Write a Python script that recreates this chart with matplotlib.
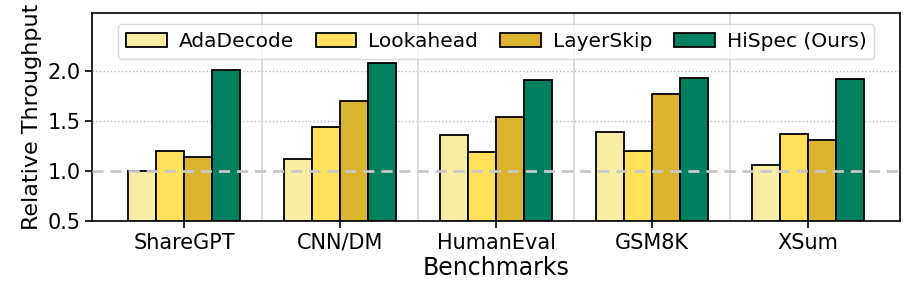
import matplotlib
matplotlib.use("Agg")
import matplotlib.pyplot as plt
import numpy as np

benchmarks = ["ShareGPT", "CNN/DM", "HumanEval", "GSM8K", "XSum"]
methods = ["AdaDecode", "Lookahead", "LayerSkip", "HiSpec (Ours)"]
adadecode = [1.00, 1.12, 1.36, 1.39, 1.06]
lookahead = [1.20, 1.44, 1.19, 1.20, 1.37]
layerskip = [1.14, 1.70, 1.54, 1.77, 1.31]
hispec = [2.01, 2.08, 1.91, 1.93, 1.92]
colors = ["#F6EEA2", "#FFE15B", "#DBB42F", "#00805E"]

series = [adadecode, lookahead, layerskip, hispec]
x = np.arange(len(benchmarks))
width = 0.18

fig, ax = plt.subplots(figsize=(9.14, 2.96), dpi=100)
for i, (vals, name) in enumerate(zip(series, methods)):
    ax.bar(x + (i - 1.5) * width, np.array(vals) - 0.5, width, bottom=0.5,
           color=colors[i], edgecolor="black", linewidth=1.3, label=name, zorder=3)

# separators between benchmark groups
for sep in x[:-1] + 0.5:
    ax.axvline(sep, color="#d9d9d9", linewidth=1.2, zorder=1)
for yv in [1.5, 2.0]:
    ax.axhline(yv, color="#bbbbbb", linestyle=":", linewidth=1, zorder=1)
ax.axhline(1.0, color="#c8c8c8", linestyle="--", linewidth=2, dashes=(4, 2.5), zorder=4)

ax.set_xlim(-0.59, 4.59)
ax.set_ylim(0.5, 2.58)
ax.set_yticks([0.5, 1.0, 1.5, 2.0])
ax.set_xticks(x)
ax.set_xticklabels(benchmarks)
ax.tick_params(axis="both", labelsize=15, length=5, width=1.2)
ax.set_ylabel("Relative Throughput", fontsize=16)
ax.set_xlabel("Benchmarks", fontsize=17, labelpad=2)
for sp in ax.spines.values():
    sp.set_linewidth(1.2)

leg = ax.legend(loc="upper center", ncol=4, fontsize=14.5, frameon=True,
                bbox_to_anchor=(0.5, 0.948), handlelength=2.0, columnspacing=1.1,
                borderaxespad=0.0, handletextpad=0.6)
leg.get_frame().set_edgecolor("#d0d0d0")
leg.set_zorder(5)

plt.subplots_adjust(left=0.101, right=0.985, top=0.956, bottom=0.253)
fig.savefig("out.png", dpi=100)
